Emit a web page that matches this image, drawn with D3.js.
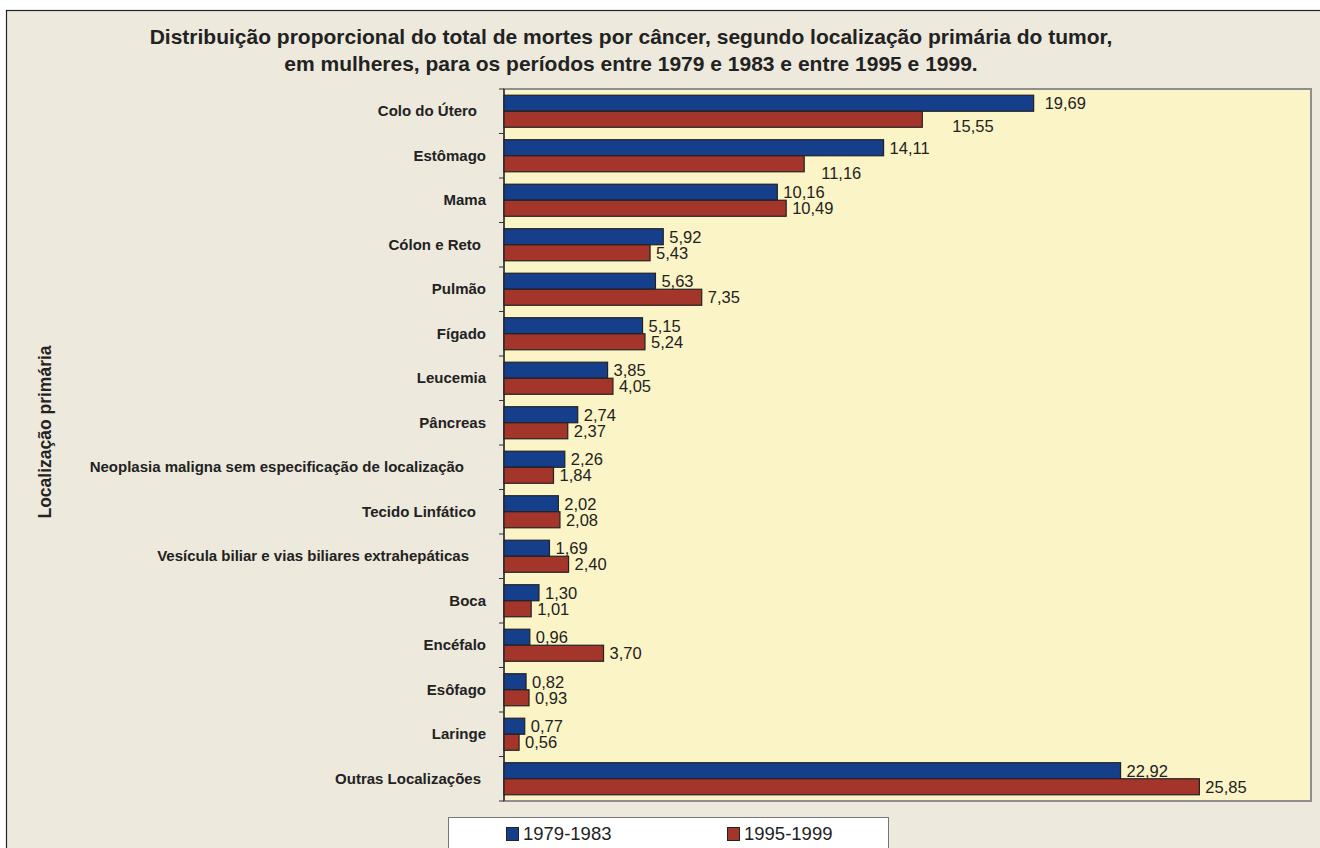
<!DOCTYPE html>
<html>
<head>
<meta charset="utf-8">
<script src="https://cdn.jsdelivr.net/npm/d3@7"></script>
<style>
  body { margin: 0; background: #ffffff; }
  text { font-family: "Liberation Sans", Arial, Helvetica, sans-serif; }
</style>
</head>
<body>
<div id="chart"></div>
<script>
// categories (top to bottom) and the two periods
var categories = [
  "Colo do Útero", "Estômago", "Mama", "Cólon e Reto", "Pulmão", "Fígado",
  "Leucemia", "Pâncreas", "Neoplasia maligna sem especificação de localização",
  "Tecido Linfático", "Vesícula biliar e vias biliares extrahepáticas",
  "Boca", "Encéfalo", "Esôfago", "Laringe", "Outras Localizações"
];
var periods = ["1979-1983", "1995-1999"];
var values7983 = [19.69, 14.11, 10.16, 5.92, 5.63, 5.15, 3.85, 2.74, 2.26, 2.02, 1.69, 1.30, 0.96, 0.82, 0.77, 22.92];
var values9599 = [15.55, 11.16, 10.49, 5.43, 7.35, 5.24, 4.05, 2.37, 1.84, 2.08, 2.40, 1.01, 3.70, 0.93, 0.56, 25.85];

var svgWidth = 1320;
var svgHeight = 848;

var margin = { top: 89, left: 504, right: 9, bottom: 47 };
var width = svgWidth - margin.left - margin.right;
var height = svgHeight - margin.top - margin.bottom;

var colors = ["#153f8a", "#a3352b"];

// small hand nudges to mimic the original label placement
var catDx = { "Colo do Útero": -9, "Cólon e Reto": -5,
  "Neoplasia maligna sem especificação de localização": -22,
  "Tecido Linfático": -10, "Vesícula biliar e vias biliares extrahepáticas": -17,
  "Outras Localizações": -5 };
var valNudge = { "0-1": [24, 7], "1-1": [11, 9], "0-0": [5, 0] };

var svg = d3.select("#chart")
  .append("svg")
  .attr("width", svgWidth)
  .attr("height", svgHeight);

// outer frame
svg.append("rect")
  .attr("x", 6.5).attr("y", 10.5)
  .attr("width", svgWidth).attr("height", svgHeight)
  .attr("fill", "#ede9dc")
  .attr("stroke", "#222")
  .attr("stroke-width", 1.2);

// title
var title = svg.append("text")
  .attr("text-anchor", "middle")
  .attr("font-size", "21px")
  .attr("font-weight", "bold")
  .attr("fill", "#222");
title.append("tspan").attr("x", 631).attr("y", 43.5)
  .text("Distribuição proporcional do total de mortes por câncer, segundo localização primária do tumor,");
title.append("tspan").attr("x", 631).attr("y", 70.5)
  .text("em mulheres, para os períodos entre 1979 e 1983 e entre 1995 e 1999.");

var chartGroup = svg.append("g")
  .attr("transform", `translate(${margin.left}, ${margin.top})`);

// plot background
chartGroup.append("rect")
  .attr("width", width).attr("height", height)
  .attr("fill", "#fbf4c6")
  .attr("stroke", "#8e8e8e")
  .attr("stroke-width", 2);

var xScale = d3.scaleLinear().domain([0, 30]).range([0, width]);

var yScale = d3.scaleBand()
  .domain(categories)
  .range([0, height])
  .paddingInner(0.28)
  .paddingOuter(0.14);

var inner = d3.scaleBand()
  .domain(periods)
  .range([0, yScale.bandwidth()]);

// left axis with ticks at band boundaries
var step = yScale.step();
var axisG = chartGroup.append("g");
axisG.append("line")
  .attr("x1", 0).attr("x2", 0).attr("y1", 0).attr("y2", height)
  .attr("stroke", "#333").attr("stroke-width", 1.5);
axisG.selectAll("line.tick")
  .data(d3.range(categories.length + 1))
  .enter()
  .append("line")
  .attr("class", "tick")
  .attr("x1", -5).attr("x2", 0)
  .attr("y1", d => d * step).attr("y2", d => d * step)
  .attr("stroke", "#333").attr("stroke-width", 1);

// category labels
chartGroup.selectAll("text.cat")
  .data(categories)
  .enter()
  .append("text")
  .attr("class", "cat")
  .attr("x", d => -18 + (catDx[d] || 0))
  .attr("y", d => yScale(d) + yScale.bandwidth() / 2 + 5)
  .attr("text-anchor", "end")
  .attr("font-size", "15px")
  .attr("font-weight", "bold")
  .attr("fill", "#222")
  .text(d => d);

var series = [values7983, values9599];
var fmt = v => v.toFixed(2).replace(".", ",");

series.forEach(function(vals, s) {
  var rows = categories.map((c, i) => ({ cat: c, v: vals[i], i: i }));

  chartGroup.selectAll("rect.s" + s)
    .data(rows)
    .enter()
    .append("rect")
    .attr("class", "s" + s)
    .attr("x", 0)
    .attr("y", d => yScale(d.cat) + inner(periods[s]))
    .attr("width", d => xScale(d.v))
    .attr("height", inner.bandwidth())
    .attr("fill", colors[s])
    .attr("stroke", "#222")
    .attr("stroke-width", 1.2);

  chartGroup.selectAll("text.l" + s)
    .data(rows)
    .enter()
    .append("text")
    .attr("class", "l" + s)
    .attr("x", d => xScale(d.v) + 6 + ((valNudge[d.i + "-" + s] || [0, 0])[0]))
    .attr("y", d => yScale(d.cat) + inner(periods[s]) + inner.bandwidth() / 2 + 6 + ((valNudge[d.i + "-" + s] || [0, 0])[1]))
    .attr("font-size", "16.5px")
    .attr("fill", "#222")
    .text(d => fmt(d.v));
});

// legend
var legend = svg.append("g");
legend.append("rect")
  .attr("x", 448.5).attr("y", 817.5)
  .attr("width", 440).attr("height", 40)
  .attr("fill", "#ffffff")
  .attr("stroke", "#777")
  .attr("stroke-width", 1);
var legendX = [506, 727];
periods.forEach(function(p, i) {
  legend.append("rect")
    .attr("x", legendX[i] + 0.5).attr("y", 827.5)
    .attr("width", 12).attr("height", 13)
    .attr("fill", colors[i])
    .attr("stroke", "#222");
  legend.append("text")
    .attr("x", legendX[i] + 17).attr("y", 840)
    .attr("font-size", "18.5px")
    .attr("fill", "#222")
    .text(p);
});

// y axis title
svg.append("text")
  .attr("transform", "rotate(-90)")
  .attr("x", -432)
  .attr("y", 51)
  .attr("text-anchor", "middle")
  .attr("font-size", "17.5px")
  .attr("font-weight", "bold")
  .attr("fill", "#222")
  .text("Localização primária");
</script>
</body>
</html>
